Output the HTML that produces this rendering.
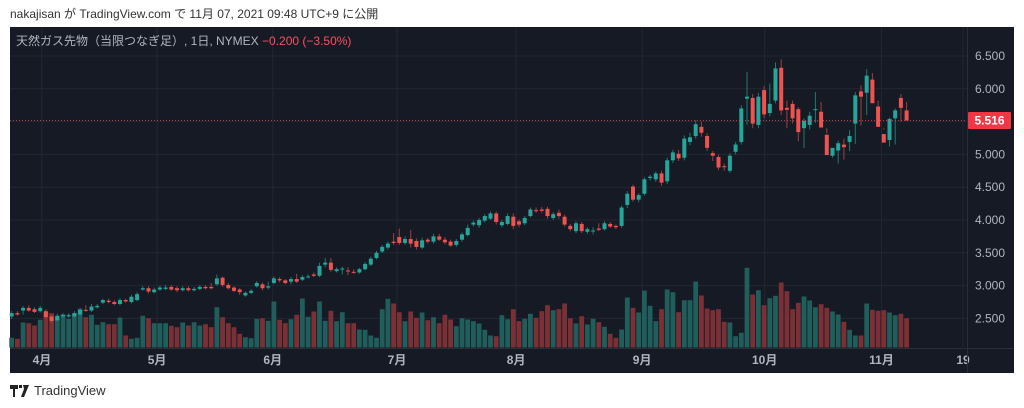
<!DOCTYPE html>
<html><head><meta charset="utf-8">
<style>
html,body{margin:0;padding:0;background:#fff;width:1024px;height:408px;overflow:hidden;font-family:"Liberation Sans","Noto Sans CJK JP",sans-serif}
#hdr{position:absolute;left:10px;top:5px;font-size:12px;color:#333}
#logo{position:absolute;left:10px;top:383px;font-size:13px;color:#333;display:flex;align-items:center}
</style></head><body>
<div id="hdr">nakajisan が TradingView.com で 11月 07, 2021 09:48 UTC+9 に公開</div>
<svg id="chart" width="1024" height="408" style="position:absolute;left:0;top:0">
<rect x="10" y="27" width="1004" height="346" fill="#161a25"/>
<g id="grid"></g><g id="vol"></g><g id="cndl"></g><g id="axis"></g>
<text x="16" y="45" font-size="12" fill="#b2b5be" font-family="Liberation Sans, Noto Sans CJK JP, sans-serif">天然ガス先物（当限つなぎ足）, 1日, NYMEX <tspan fill="#f7525f">−0.200 (−3.50%)</tspan></text>
</svg>
<div id="logo"><svg width="20" height="12" viewBox="0 0 20 12"><path d="M0 0h8v4H5v8H3V4H0z M9 0h3v3H9z M13 0h6l-5 12h-3l3-8z" fill="#222"/></svg><span style="margin-left:4px">TradingView</span></div>
<script>
const opens=[2.53,2.58,2.62,2.66,2.64,2.61,2.61,2.53,2.47,2.53,2.53,2.53,2.56,2.63,2.62,2.67,2.74,2.77,2.75,2.72,2.78,2.75,2.78,2.94,2.96,2.90,2.94,2.95,2.98,2.96,2.93,2.96,2.93,2.95,2.98,2.98,3.02,3.12,3.01,2.97,2.94,2.85,2.89,2.99,3.02,2.97,3.04,3.10,3.08,3.06,3.10,3.09,3.13,3.17,3.15,3.32,3.35,3.22,3.25,3.23,3.21,3.20,3.25,3.32,3.42,3.52,3.58,3.67,3.74,3.65,3.71,3.68,3.58,3.70,3.67,3.75,3.70,3.67,3.62,3.70,3.77,3.93,3.92,3.99,4.02,4.10,3.92,3.94,4.05,3.98,3.95,4.06,4.15,4.16,4.17,4.03,4.11,4.05,3.91,3.83,3.94,3.82,3.83,3.87,3.86,3.94,3.91,3.91,4.23,4.51,4.31,4.40,4.64,4.62,4.71,4.59,4.91,5.01,4.95,5.19,5.28,5.42,5.28,5.02,4.96,4.82,4.75,5.04,5.19,5.85,5.86,5.45,5.98,5.63,5.82,6.32,5.71,5.77,5.69,5.40,5.45,5.68,5.65,5.30,4.98,5.06,5.15,5.19,5.47,5.96,5.94,6.14,5.73,5.31,5.22,5.55,5.86,5.67];
const closes=[2.58,2.56,2.66,2.62,2.60,2.66,2.52,2.46,2.54,2.55,2.55,2.58,2.63,2.62,2.68,2.69,2.78,2.75,2.72,2.78,2.76,2.83,2.87,2.96,2.91,2.94,2.97,2.97,2.94,2.93,2.96,2.93,2.95,2.98,2.96,2.96,3.11,3.01,2.96,2.92,2.90,2.89,2.92,3.04,2.96,2.99,3.11,3.08,3.04,3.10,3.06,3.13,3.14,3.15,3.30,3.35,3.24,3.25,3.26,3.22,3.20,3.25,3.33,3.41,3.50,3.59,3.64,3.65,3.65,3.71,3.64,3.59,3.69,3.67,3.75,3.70,3.66,3.61,3.68,3.78,3.88,3.96,4.00,4.06,4.10,3.97,3.97,4.06,3.91,3.93,4.03,4.16,4.14,4.14,4.06,4.09,4.06,3.93,3.86,3.95,3.83,3.86,3.84,3.85,3.95,3.90,3.89,4.19,4.40,4.31,4.38,4.62,4.66,4.71,4.57,4.91,5.03,4.94,5.24,5.26,5.46,5.33,5.10,4.98,4.80,4.81,4.98,5.15,5.70,5.88,5.47,5.88,5.61,5.77,6.31,5.67,5.68,5.55,5.34,5.51,5.59,5.69,5.41,4.99,5.10,5.17,5.11,5.28,5.90,5.88,6.20,5.78,5.42,5.18,5.54,5.67,5.71,5.516];
const highs=[2.61,2.61,2.69,2.70,2.67,2.69,2.64,2.55,2.57,2.58,2.58,2.61,2.66,2.70,2.72,2.72,2.80,2.80,2.78,2.81,2.80,2.86,2.90,2.99,2.99,2.97,3.00,3.01,3.01,2.99,2.99,2.99,2.98,3.01,3.01,3.04,3.17,3.14,3.04,2.99,2.96,2.91,2.95,3.07,3.05,3.06,3.14,3.13,3.10,3.13,3.18,3.16,3.17,3.20,3.35,3.42,3.42,3.28,3.29,3.28,3.25,3.27,3.36,3.44,3.53,3.62,3.67,3.80,3.87,3.75,3.85,3.72,3.73,3.73,3.79,3.79,3.74,3.70,3.71,3.81,3.93,3.99,4.03,4.09,4.13,4.13,4.00,4.10,4.10,4.01,4.06,4.19,4.19,4.20,4.20,4.12,4.16,4.08,3.94,3.98,3.97,3.89,3.89,3.95,3.98,3.97,3.93,4.22,4.44,4.54,4.41,4.65,4.69,4.74,4.75,4.95,5.07,5.07,5.29,5.33,5.52,5.50,5.32,5.05,5.00,4.86,5.02,5.19,5.75,6.26,5.92,5.94,6.04,6.08,6.40,6.45,5.82,5.82,5.72,5.55,5.65,5.95,5.80,5.40,5.03,5.21,5.24,5.37,5.95,6.05,6.30,6.24,5.82,5.40,5.56,5.70,5.92,5.80];
const lows=[2.49,2.54,2.56,2.60,2.58,2.59,2.50,2.43,2.45,2.51,2.51,2.51,2.54,2.60,2.60,2.65,2.72,2.73,2.70,2.70,2.74,2.73,2.76,2.92,2.88,2.88,2.92,2.93,2.92,2.90,2.91,2.91,2.91,2.93,2.94,2.94,3.00,2.98,2.94,2.90,2.86,2.83,2.87,2.97,2.93,2.94,3.02,3.05,3.02,3.02,3.04,3.07,3.11,3.13,3.13,3.28,3.21,3.20,3.17,3.16,3.18,3.18,3.23,3.30,3.40,3.50,3.55,3.62,3.62,3.62,3.58,3.55,3.56,3.64,3.64,3.68,3.63,3.59,3.59,3.67,3.75,3.90,3.88,3.96,4.00,3.93,3.89,3.92,3.86,3.89,3.92,4.04,4.11,4.11,4.02,4.00,4.02,3.90,3.83,3.80,3.80,3.79,3.78,3.83,3.84,3.88,3.86,3.88,4.18,4.28,4.27,4.37,4.60,4.58,4.52,4.55,4.87,4.90,4.91,5.14,5.24,5.27,5.05,4.90,4.76,4.75,4.72,5.00,5.15,5.45,5.40,5.40,5.55,5.58,5.78,5.60,5.40,5.47,5.20,5.10,5.38,5.48,5.60,5.32,4.95,4.86,4.92,5.05,5.16,5.44,5.60,5.80,5.65,5.38,5.12,5.15,5.50,5.65,5.50];
const volumes=[97,87,250,243,220,277,353,343,310,333,287,343,387,303,327,227,253,233,233,300,120,87,97,317,293,243,243,243,217,203,250,220,253,220,233,203,403,303,243,203,137,103,93,287,293,267,460,277,243,283,327,490,307,360,460,267,367,263,353,243,243,180,177,120,97,383,487,440,353,263,360,297,350,273,303,243,327,280,213,293,280,263,240,177,120,113,323,283,383,263,287,337,297,363,423,373,383,440,293,240,313,230,287,253,207,137,97,180,500,397,350,570,417,263,383,580,553,353,473,473,660,520,390,373,383,257,250,113,147,797,530,573,423,493,517,650,563,383,447,510,470,403,433,397,360,330,257,177,120,120,440,377,367,373,350,323,337,293];
const monthLabels=["4月","5月","6月","7月","8月","9月","10月","11月","19"];
const monthIdx=[5.3,25.5,45.8,67.6,88.5,110.6,132.1,152.6,166.9];
const priceTicks=[6.5,6.0,5.5,5.0,4.5,4.0,3.5,3.0,2.5];
const lastPrice=5.516;

const NS="http://www.w3.org/2000/svg";
const X0=11.7, STEP=5.7, PLOT_R=967, VOL_BASE=347.5, VOL_SCALE=0.1;
function xI(i){return X0+i*STEP;}
function yP(p){return 56+(6.5-p)*65.6;}
function yV(v){return VOL_BASE-v*VOL_SCALE;}
function mk(tag,attrs,parent){const e=document.createElementNS(NS,tag);for(const k in attrs)e.setAttribute(k,attrs[k]);parent.appendChild(e);return e;}
const grid=document.getElementById('grid'),vol=document.getElementById('vol'),cndl=document.getElementById('cndl'),axis=document.getElementById('axis');
priceTicks.forEach((p,k)=>{
  const l=mk('line',{x1:10,x2:PLOT_R,y1:yP(p),y2:yP(p),stroke:'#232733','stroke-width':1},grid);
  
  
  if(p===5.5)return;
  const t=mk('text',{x:990,y:yP(p)+4,'font-size':12,fill:'#b2b5be','text-anchor':'middle'},axis);
  
  
  t.textContent=p.toFixed(3);
});
monthIdx.forEach((m,k)=>{
  const x=xI(m);
  if(x<PLOT_R){
    const l=mk('line',{x1:x,x2:x,y1:27,y2:347,stroke:'#232733','stroke-width':1},grid);
    
    
  }
  const t=mk('text',{x:x,y:364,'font-size':12,fill:'#b2b5be','text-anchor':'middle','font-weight':'bold'},axis);
  
  
  t.textContent=monthLabels[k];
});
const sepV=mk('line',{x1:PLOT_R+0.5,x2:PLOT_R+0.5,y1:27,y2:373,stroke:'#2a2e39'},axis);


const sepH=mk('line',{x1:10,x2:1014,y1:348.5,y2:348.5,stroke:'#2a2e39'},axis);


opens.forEach((o,i)=>{
  const c=closes[i],up=c>=o,x=xI(i);
  const vb=mk('rect',{x:x-2.4,y:yV(volumes[i]),width:4.8,height:VOL_BASE-yV(volumes[i]),fill:up?'#1f5e5b':'#7b3035'},vol);
  
  
  const col=up?'#26a69a':'#ef5350';
  const w=mk('line',{x1:x,x2:x,y1:yP(highs[i]),y2:yP(lows[i]),stroke:up?'#1f7a72':'#a23e3f','stroke-width':1},cndl);
  
  
  const top=yP(Math.max(o,c)),bot=yP(Math.min(o,c));
  const b=mk('rect',{x:x-2,y:top,width:4,height:Math.max(1,bot-top),fill:col},cndl);
  
  
});
const pl=mk('line',{x1:10,x2:PLOT_R,y1:yP(lastPrice),y2:yP(lastPrice),stroke:'#ef5350','stroke-width':1,'stroke-dasharray':'1 2',opacity:0.7},axis);


const pb=mk('rect',{x:968,y:yP(lastPrice)-8.5,width:43,height:17,fill:'#f23645',rx:1},axis);


const pt=mk('text',{x:989.5,y:yP(lastPrice)+4,'font-size':12,fill:'#fff','text-anchor':'middle','font-weight':'bold'},axis);


pt.textContent=lastPrice.toFixed(3);
</script>
</body></html>
